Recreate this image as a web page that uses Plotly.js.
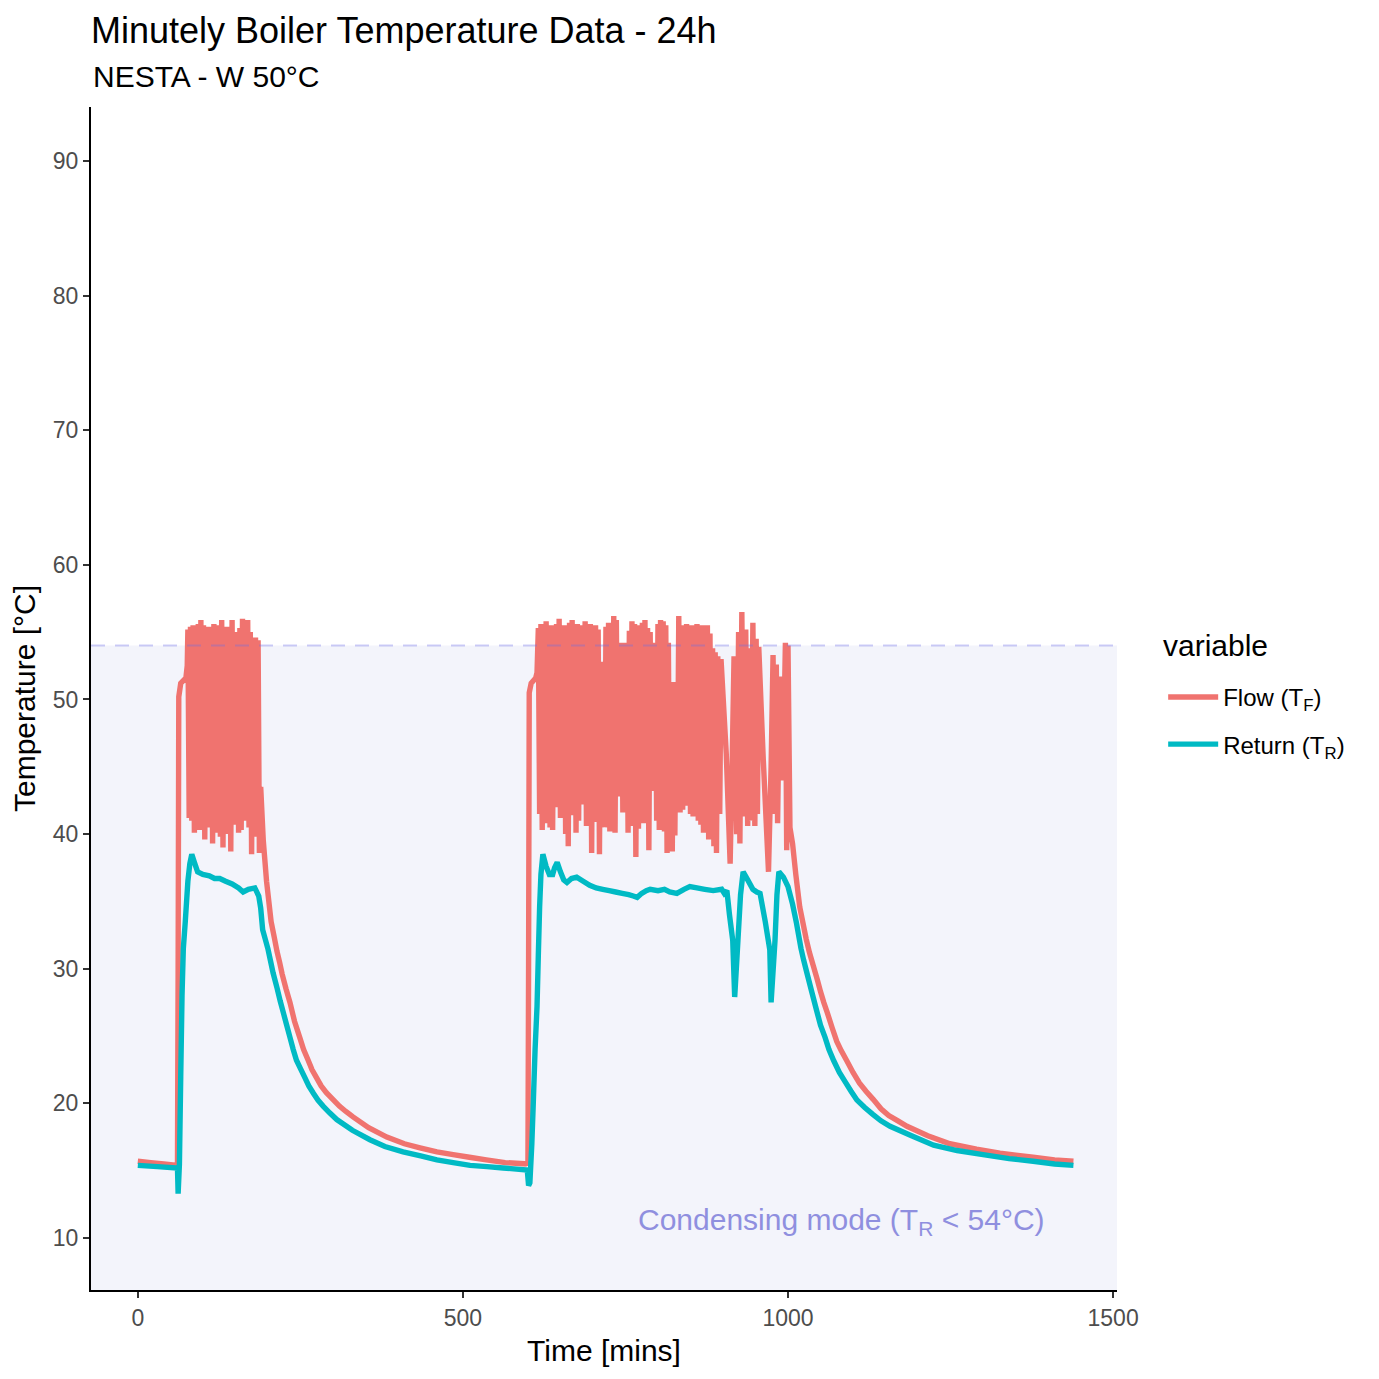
<!DOCTYPE html>
<html>
<head>
<meta charset="utf-8">
<script src="https://cdn.plot.ly/plotly-3.0.1.min.js"></script>
<style>
  html, body { margin: 0; padding: 0; background: #fff; }
  #chart { width: 1379px; height: 1379px; }
</style>
</head>
<body>
<div id="chart"></div>
<script>
// minutely boiler log (minutes since start, degC)

// flow temperature, first heating period
var flowRise1Min  = [0, 20, 40, 61, 62, 63, 66, 74, 76];
var flowRise1Temp = [15.7, 15.6, 15.5, 15.4, 30.0, 50.2, 51.2, 51.6, 52.5];

var flowBurst1Min  = [77, 79, 81, 83, 85, 87, 89, 91, 93, 95, 97, 99, 101, 103, 105, 107, 109, 111, 113, 115,
                      117, 119, 121, 123, 125, 127, 129, 131, 133, 135, 137, 139, 141, 143, 145, 147, 149, 151,
                      153, 155, 157, 159, 161, 163, 165, 167, 169, 171, 173, 175, 177, 179, 181, 183, 185, 187];
var flowBurst1Temp = [55.2, 41.2, 55.4, 41.0, 55.5, 40.1, 55.3, 40.6, 55.6, 40.3, 55.9, 40.8, 55.5, 39.6, 55.2, 40.5,
                      55.4, 40.9, 55.0, 39.3, 55.6, 40.1, 55.3, 40.6, 55.5, 39.8, 55.9, 39.0, 55.1, 40.4, 55.4, 40.0,
                      55.2, 38.7, 55.9, 40.7, 55.0, 41.2, 53.7, 40.1, 55.3, 40.3, 56.0, 41.0, 55.6, 41.1, 55.9, 40.5,
                      55.0, 38.5, 54.4, 39.8, 54.6, 41.3, 54.4, 38.6];

var flowDecay1Min  = [189, 193, 198, 205, 210, 214, 218, 222, 228, 234, 241, 249, 255, 262, 268, 275, 282, 290, 300, 310,
                      320, 331, 355, 383, 410, 434, 460, 485, 510, 536, 565, 599];
var flowDecay1Temp = [43.5, 39.5, 36.5, 33.5, 32.3, 31.3, 30.5, 29.6, 28.5, 27.5, 26.1, 24.9, 24.0, 23.2, 22.5, 21.9, 21.3, 20.8, 20.3, 19.8,
                      19.4, 19.0, 18.2, 17.5, 17.0, 16.7, 16.4, 16.2, 16.0, 15.8, 15.6, 15.5];

// flow temperature, second heating period
var flowRise2Min  = [600, 601, 602, 605, 612, 614];
var flowRise2Temp = [15.4, 30.0, 50.5, 51.2, 51.6, 52.0];

var flowBurst2Min = [
  616, 618, 620, 622, 624, 626, 628, 630, 632, 634, 636, 638, 640, 642, 644, 646, 648, 650, 652, 654,
  656, 658, 660, 662, 664, 666, 668, 670, 672, 674, 676, 678, 680, 682, 684, 686, 688, 690, 692, 694,
  696, 698, 700, 702, 704, 706, 708, 710, 712, 714, 716, 718, 720, 722, 724, 726, 728, 730, 732, 734,
  736, 738, 740, 742, 744, 746, 748, 750, 752, 754, 756, 758, 760, 762, 764, 766, 768, 770, 772, 774,
  776, 778, 780, 782, 784, 786, 788, 790, 792, 794, 796, 798, 800, 802, 804, 806, 808, 810, 812, 814,
  816, 818, 820, 822, 824, 826, 828, 830, 832, 834, 836, 838, 840, 842, 844, 846, 848, 850, 852, 854,
  856, 858, 860, 862, 864, 866, 868, 870, 872, 874, 876, 878, 880, 882, 884, 886, 888, 890];
var flowBurst2Temp = [
  55.3, 41.5, 55.6, 40.3, 55.2, 40.8, 55.8, 41.9, 55.4, 40.5, 55.5, 40.3, 55.1, 45.8, 55.6, 42.0, 56.0, 41.2, 55.3, 42.5,
  55.5, 40.0, 55.2, 39.1, 55.7, 41.4, 55.9, 42.8, 55.4, 40.1, 55.6, 41.0, 55.3, 43.5, 55.5, 42.2, 55.8, 40.6, 55.4, 41.5,
  55.6, 38.6, 55.3, 40.9, 55.5, 42.0, 55.2, 38.5, 52.8, 41.0, 52.6, 40.5, 55.4, 41.8, 55.7, 40.2, 55.5, 41.5, 56.2, 40.1,
  55.9, 42.8, 54.0, 43.0, 54.2, 41.6, 53.8, 42.2, 54.2, 40.1, 55.1, 40.6, 55.8, 41.3, 55.6, 38.3, 55.2, 40.4, 55.5, 42.0,
  55.7, 40.8, 55.9, 41.5, 55.3, 38.8, 55.0, 45.0, 54.0, 43.2, 54.2, 41.0, 55.6, 40.3, 55.9, 41.7, 55.8, 40.2, 55.5, 38.6,
  54.2, 39.5, 51.3, 38.7, 51.0, 39.9, 51.3, 42.5, 56.2, 41.6, 55.5, 41.8, 55.3, 43.0, 55.6, 42.1, 55.4, 41.5, 55.5, 41.3,
  55.2, 42.4, 55.6, 41.0, 55.4, 40.7, 55.5, 40.1, 55.3, 40.9, 55.5, 39.6, 54.9, 40.3, 53.8, 39.1, 53.5, 38.6];

var flowTail2Min  = [892, 895, 897, 905, 911, 914, 917, 921, 924, 926, 929, 932, 935, 938, 941, 943, 946, 949, 951, 953,
                     955, 962, 970, 974, 977, 980, 982, 984, 987, 990, 993, 996, 998, 1000, 1003, 1007, 1012, 1018,
                     1028, 1033, 1039, 1045, 1050, 1055, 1060, 1068, 1075, 1082, 1090, 1100, 1110, 1120, 1131, 1143, 1155,
                     1169, 1183, 1215, 1249, 1290, 1326, 1377, 1410, 1439];
var flowTail2Temp = [53.2, 41.5, 53.0, 46.0, 37.8, 45.0, 53.2, 40.0, 55.0, 39.3, 56.5, 41.3, 55.2, 40.6, 53.8, 41.0, 55.7, 40.6, 54.5, 41.5,
                     53.9, 45.5, 37.2, 45.0, 53.3, 41.5, 52.6, 40.8, 51.7, 44.0, 46.0, 54.2, 38.8, 54.0, 40.5, 39.3, 37.0, 34.6,
                     32.2, 31.2, 30.2, 29.2, 28.3, 27.5, 26.8, 25.6, 24.6, 23.9, 23.2, 22.3, 21.5, 20.9, 20.3, 19.6, 19.1,
                     18.7, 18.3, 17.6, 17.0, 16.6, 16.3, 16.0, 15.8, 15.7];

// return temperature
var returnMin = [
  0, 30, 61, 62, 64, 66, 68, 70, 73, 77, 80, 83, 87, 92, 100, 110, 118, 126, 135, 145, 155, 162, 170, 180, 186,
  189, 192, 196, 200, 204, 208, 214, 219, 224, 229, 234, 239, 244, 250, 256, 263, 270, 277, 285, 295, 306, 330,
  357, 380, 408, 435, 460, 485, 511, 537, 562, 599,
  601, 603, 606, 608, 611, 614, 616, 618, 620, 623, 628, 633, 638, 641, 645, 650, 655, 660, 667, 675, 685, 695,
  705, 715, 725, 735, 745, 755, 762, 768, 775, 782, 788, 800, 810, 818, 829, 840, 849, 860, 872, 885, 898, 902,
  906, 910, 915, 918, 923, 927, 931, 938, 946, 952, 957, 965, 972, 974, 980, 983, 986, 993, 1000, 1007, 1013,
  1020, 1024, 1029, 1037, 1044, 1050, 1057, 1063, 1070, 1079, 1088, 1097, 1106, 1118, 1130, 1143, 1157, 1190,
  1224, 1260, 1300, 1340, 1377, 1410, 1439];
var returnTemp = [
  15.4, 15.3, 15.2, 13.3, 15.5, 22.0, 28.0, 31.5, 33.5, 36.5, 37.8, 38.5, 37.9, 37.2, 37.0, 36.9, 36.7, 36.7, 36.5, 36.3, 36.0, 35.7, 35.9, 36.0, 35.4,
  34.5, 32.9, 32.2, 31.5, 30.6, 29.7, 28.6, 27.6, 26.7, 25.8, 24.9, 24.0, 23.2, 22.6, 22.0, 21.3, 20.75, 20.25, 19.8, 19.3, 18.8, 18.0,
  17.3, 16.8, 16.4, 16.1, 15.8, 15.6, 15.4, 15.3, 15.2, 15.05,
  13.9, 14.1, 17.0, 19.7, 24.0, 27.2, 31.0, 34.6, 37.0, 38.5, 37.6, 37.0, 37.0, 37.5, 37.9, 37.2, 36.6, 36.4, 36.7, 36.8, 36.5, 36.2,
  36.0, 35.9, 35.8, 35.7, 35.6, 35.5, 35.4, 35.3, 35.6, 35.8, 35.9, 35.8, 35.9, 35.7, 35.6, 35.9, 36.1, 36.0, 35.9, 35.8, 35.9, 35.6,
  35.8, 34.0, 32.1, 27.9, 32.1, 35.5, 37.2, 36.6, 35.9, 35.7, 35.6, 33.5, 31.4, 27.5, 32.1, 35.5, 37.2, 36.8, 36.1, 34.8, 33.4,
  31.5, 30.65, 29.7, 28.2, 26.9, 25.8, 24.9, 24.0, 23.2, 22.3, 21.6, 20.9, 20.25, 19.7, 19.2, 18.7, 18.3, 17.6,
  16.9, 16.5, 16.2, 15.9, 15.7, 15.5, 15.4];

var condensingLimit = 54;
var xTicks = [0, 500, 1000, 1500];
var yTicks = [10, 20, 30, 40, 50, 60, 70, 80, 90];

var flowMin = [].concat(flowRise1Min, flowBurst1Min, flowDecay1Min, flowRise2Min, flowBurst2Min, flowTail2Min);
var flowTemp = [].concat(flowRise1Temp, flowBurst1Temp, flowDecay1Temp, flowRise2Temp, flowBurst2Temp, flowTail2Temp);

var font = 'Liberation Sans, Arial, sans-serif';
var yLow = 6.14, yHigh = 94.0;

var data = [
  {
    x: flowMin, y: flowTemp,
    name: 'Flow (T<sub>F</sub>)',
    type: 'scatter', mode: 'lines',
    line: {color: '#F0736F', width: 5.4, simplify: false},
    legendgroup: 'flow'
  },
  {
    x: returnMin, y: returnTemp,
    name: 'Return (T<sub>R</sub>)',
    type: 'scatter', mode: 'lines',
    line: {color: '#00BAC4', width: 5.4, simplify: false},
    legendgroup: 'return'
  }
];

var axisCommon = {
  showgrid: false, zeroline: false,
  showline: true, linecolor: '#000', linewidth: 2,
  ticks: 'outside', ticklen: 6, tickwidth: 2, tickcolor: '#333',
  tickfont: {family: font, size: 23, color: '#4d4d4d'},
  automargin: false
};

var layout = {
  width: 1379, height: 1379,
  paper_bgcolor: '#fff', plot_bgcolor: '#fff',
  font: {family: font, color: '#000'},
  margin: {l: 91, r: 262, t: 107, b: 89},
  title: {
    text: 'Minutely Boiler Temperature Data - 24h',
    font: {family: font, size: 36, color: '#000'},
    x: 0.066, xanchor: 'left', xref: 'container',
    y: 0.987, yanchor: 'top'
  },
  xaxis: Object.assign({}, axisCommon, {
    range: [-72, 1506],
    tickvals: xTicks,
    title: {text: 'Time [mins]', font: {family: font, size: 30, color: '#000'}, standoff: 10}
  }),
  yaxis: Object.assign({}, axisCommon, {
    range: [yLow, yHigh],
    tickvals: yTicks,
    title: {text: 'Temperature [°C]', font: {family: font, size: 30, color: '#000'}, standoff: 8}
  }),
  legend: {
    x: 1.045, xanchor: 'left', y: 0.52, yanchor: 'top',
    font: {family: font, size: 24, color: '#000'},
    itemwidth: 50,
    tracegroupgap: 13,
    bgcolor: 'rgba(0,0,0,0)'
  },
  shapes: [
    {
      type: 'rect', layer: 'below',
      xref: 'paper', x0: 0, x1: 1,
      yref: 'y', y0: yLow, y1: condensingLimit,
      fillcolor: '#f3f4fb', line: {width: 0}
    },
    {
      type: 'line', layer: 'above',
      xref: 'paper', x0: 0, x1: 1,
      yref: 'y', y0: condensingLimit, y1: condensingLimit,
      line: {color: 'rgba(110,110,230,0.35)', width: 2, dash: '14px,10px'}
    }
  ],
  annotations: [
    {
      // subtitle
      x: 0, y: 1.026, xref: 'paper', yref: 'paper',
      xanchor: 'left', yanchor: 'middle',
      text: 'NESTA - W 50°C', showarrow: false,
      font: {family: font, size: 30, color: '#000'}
    },
    {
      // legend heading
      x: 1.043, y: 0.545, xref: 'paper', yref: 'paper',
      xanchor: 'left', yanchor: 'middle',
      text: 'variable', showarrow: false,
      font: {family: font, size: 30, color: '#000'}
    },
    {
      x: 1082, y: 11.2, xref: 'x', yref: 'y',
      text: 'Condensing mode (T<sub>R</sub> &lt; 54°C)',
      showarrow: false,
      font: {family: font, size: 30, color: '#8f8fdf'}
    }
  ]
};

Plotly.newPlot('chart', data, layout, {displayModeBar: false, staticPlot: true});
</script>
</body>
</html>
